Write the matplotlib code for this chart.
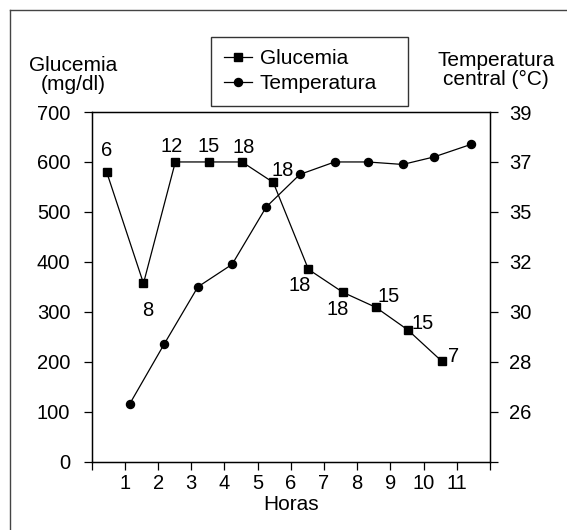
import numpy as np
import matplotlib
matplotlib.use("Agg")
import matplotlib.pyplot as plt
from matplotlib.lines import Line2D

plt.rcParams['font.family'] = ['Liberation Sans', 'DejaVu Sans']

# ---- data ----
hours_ticks = list(range(0, 13))
hours_labels = [''] + [str(h) for h in range(1, 12)] + ['']

gluc_x = [0.45, 1.56, 2.52, 3.52, 4.53, 5.47, 6.53, 7.57, 8.56, 9.52, 10.55]
glucemia = [580, 357, 600, 600, 600, 559, 385, 339, 309, 264, 201]
gluc_labels = ['6', '8', '12', '15', '18', '18', '18', '18', '15', '15', '7']

temp_x = [1.14, 2.18, 3.2, 4.23, 5.26, 6.27, 7.32, 8.31, 9.37, 10.31, 11.42]
temperatura = [26.3, 28.7, 31.0, 31.9, 35.2, 36.5, 37.0, 37.0, 36.9, 37.2, 37.7]

left_ticks = [0, 100, 200, 300, 400, 500, 600, 700]
temp_tick_values = [26, 28, 30, 32, 35, 37, 39]
temp_tick_pos = [100, 200, 300, 400, 500, 600, 700]

# label offsets (points)
label_offsets = [(0, 15.6), (3.4, -19.2), (-2.9, 11.2), (0, 11.2), (1, 10.5),
                 (6.5, 8.9), (-6.5, -11.3), (-3.6, -12.2), (8.9, 8.1),
                 (10.8, 4.3), (8.4, 3.2)]

FS = 15
TFS = 14.5

fig = plt.figure(figsize=(5.67, 5.30), dpi=100)
ax = fig.add_axes([91.7 / 567, 68.3 / 530, (490 - 91.7) / 567, (461.7 - 112) / 530])

temp_mapped = np.interp(temperatura, temp_tick_values, temp_tick_pos)

ax.plot(gluc_x, glucemia, color='black', lw=0.9, marker='s', ms=6.4,
        label='Glucemia', zorder=3)
ax.plot(temp_x, temp_mapped, color='black', lw=0.9, marker='o', ms=5.8,
        label='Temperatura', zorder=3)

for x, y, t, off in zip(gluc_x, glucemia, gluc_labels, label_offsets):
    ax.annotate(t, (x, y), xytext=off, textcoords='offset points',
                ha='center', va='center', fontsize=TFS)

ax.set_xlim(0, 12)
ax.set_ylim(0, 700)
ax.set_xticks(hours_ticks)
ax.set_xticklabels(hours_labels)
ax.set_yticks(left_ticks)
ax.tick_params(axis='both', direction='out', length=6, width=0.9, labelsize=TFS)
ax.tick_params(axis='y', pad=9.4)
ax.tick_params(axis='x', pad=3)
for s in ax.spines.values():
    s.set_linewidth(1.0)

ax2 = ax.twinx()
ax2.set_ylim(0, 700)
ax2.set_yticks([0] + temp_tick_pos)
ax2.set_yticklabels([''] + [str(v) for v in temp_tick_values])
ax2.tick_params(axis='y', direction='out', length=6, width=0.9, labelsize=TFS, pad=8)

ax.set_xlabel('Horas', fontsize=FS, labelpad=1)

fig.text(73 / 567, 1 - 75 / 530, 'Glucemia\n(mg/dl)', ha='center', va='center',
         fontsize=FS, linespacing=1.05)
fig.text(496 / 567, 1 - 70 / 530, 'Temperatura\ncentral (°C)', ha='center', va='center',
         fontsize=FS, linespacing=0.97)

leg = ax.legend(loc='upper left',
                bbox_to_anchor=(211 / 567, 1 - 106 / 530, 197 / 567, 69 / 530),
                bbox_transform=fig.transFigure, mode='expand', frameon=True,
                fancybox=False, fontsize=FS, handlelength=1.35, handletextpad=0.4,
                borderpad=0.6, labelspacing=0.28, borderaxespad=0)
leg.get_frame().set_edgecolor('black')
leg.get_frame().set_linewidth(1.0)

# outer frame (top and left edges)
fig.add_artist(Line2D([10 / 567, 1], [1 - 10 / 530, 1 - 10 / 530],
                      transform=fig.transFigure, color='#444444', lw=1.0))
fig.add_artist(Line2D([10 / 567, 10 / 567], [0, 1 - 10 / 530],
                      transform=fig.transFigure, color='#444444', lw=1.0))

fig.savefig('out.png', dpi=100)
